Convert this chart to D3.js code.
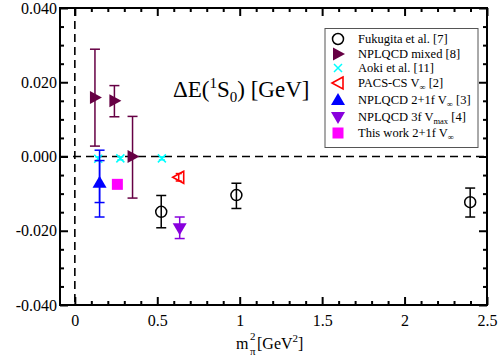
<!DOCTYPE html>
<html>
<head>
<meta charset="utf-8">
<script src="https://cdn.jsdelivr.net/npm/d3@7"></script>
<style>
  body { margin: 0; background: #fff; }
  text { font-family: "Liberation Serif", "Times New Roman", serif; }
</style>
</head>
<body>
<div id="chart"></div>
<script>
// data
var fukX = [0.524, 0.98, 2.398];
var fukY = [-0.0149, -0.0104, -0.0123];
var fukLo = [-0.0192, -0.0140, -0.0163];
var fukHi = [-0.0105, -0.0072, -0.0085];

var mixX = [0.122, 0.24, 0.35];
var mixY = [0.0159, 0.0150, 0.0000];
var mixLo = [0.0028, 0.0107, -0.0112];
var mixHi = [0.0289, 0.0191, 0.0108];

var aokiX = [0.142, 0.276, 0.528];
var aokiY = [-0.0006, -0.0005, -0.0005];
var aokiLo = [-0.0011, -0.0009, -0.0009];
var aokiHi = [-0.0001, -0.0001, -0.0001];

var pacsX = [0.63];
var pacsY = [-0.0056];
var pacsLo = [-0.0066];
var pacsHi = [-0.0046];

var npl21X = [0.15];
var npl21Y = [-0.0071];
var npl21Lo = [-0.0163];
var npl21Hi = [0.0017];
var npl21StatLo = [-0.0124];
var npl21StatHi = [-0.0011];

var npl3X = [0.636];
var npl3Y = [-0.0193];
var npl3Lo = [-0.0221];
var npl3Hi = [-0.0163];

var thisX = [0.258];
var thisY = [-0.0075];

var xTicks = [0, 0.5, 1, 1.5, 2, 2.5];
var xTickLabels = ["0", "0.5", "1", "1.5", "2", "2.5"];
var yTicks = [-0.04, -0.02, 0, 0.02, 0.04];
var yTickLabels = ["-0.040", "-0.020", "0.000", "0.020", "0.040"];

var width = 498, height = 358;
var pLeft = 60, pRight = 487, pTop = 8, pBottom = 305;

var x = d3.scaleLinear().domain([-0.09, 2.5]).range([pLeft, pRight]);
var y = d3.scaleLinear().domain([-0.04, 0.04]).range([pBottom, pTop]);

var svg = d3.select("#chart").append("svg")
  .attr("width", width).attr("height", height);

// minor ticks
var xMinor = d3.range(0, 2.5001, 0.1).filter(function(v) { return Math.abs(v * 2 - Math.round(v * 2)) > 1e-6; });
var yMinor = d3.range(-0.04, 0.04001, 0.005).filter(function(v) { return Math.abs(v / 0.02 - Math.round(v / 0.02)) > 1e-6; });

function tickAxis(axisFn, scale, vals, size, tr, labels) {
  var a = axisFn(scale).tickValues(vals).tickSizeInner(size).tickSizeOuter(0);
  if (labels) a.tickFormat(function(d, i) { return labels[i]; });
  else a.tickFormat("");
  var g = svg.append("g").attr("transform", tr).call(a);
  g.select(".domain").remove();
  g.selectAll(".tick line").attr("stroke", "#000").attr("stroke-width", 2);
  return g;
}

// bottom
var gb = tickAxis(d3.axisBottom, x, xTicks, -8, "translate(0," + pBottom + ")", xTickLabels);
gb.selectAll(".tick text").attr("y", 10).attr("dy", "0.71em").style("font-size", "16px").attr("fill", "#000");
tickAxis(d3.axisBottom, x, xMinor, -4, "translate(0," + pBottom + ")");
// top
tickAxis(d3.axisTop, x, xTicks, -8, "translate(0," + pTop + ")");
tickAxis(d3.axisTop, x, xMinor, -4, "translate(0," + pTop + ")");
// left
var gl = tickAxis(d3.axisLeft, y, yTicks, -8, "translate(" + pLeft + ",0)", yTickLabels);
gl.selectAll(".tick text").attr("x", -3).style("font-size", "16px").attr("fill", "#000");
tickAxis(d3.axisLeft, y, yMinor, -4, "translate(" + pLeft + ",0)");
// right
tickAxis(d3.axisRight, y, yTicks, -8, "translate(" + pRight + ",0)");
tickAxis(d3.axisRight, y, yMinor, -4, "translate(" + pRight + ",0)");

// frame
svg.append("rect").attr("x", pLeft).attr("y", pTop)
  .attr("width", pRight - pLeft).attr("height", pBottom - pTop)
  .attr("fill", "none").attr("stroke", "#000").attr("stroke-width", 2);

// zero lines
svg.append("line").attr("x1", pLeft).attr("x2", pRight)
  .attr("y1", y(0)).attr("y2", y(0))
  .attr("stroke", "#000").attr("stroke-width", 1.6).attr("stroke-dasharray", "8,5");
svg.append("line").attr("x1", x(0)).attr("x2", x(0))
  .attr("y1", pTop).attr("y2", pBottom)
  .attr("stroke", "#000").attr("stroke-width", 1.6).attr("stroke-dasharray", "8,5");

function errBars(xs, lo, hi, color, cap) {
  xs.forEach(function(xv, i) {
    var g = svg.append("g").attr("stroke", color).attr("stroke-width", 1.5);
    g.append("line").attr("x1", x(xv)).attr("x2", x(xv)).attr("y1", y(lo[i])).attr("y2", y(hi[i]));
    [lo[i], hi[i]].forEach(function(v) {
      g.append("line").attr("x1", x(xv) - cap).attr("x2", x(xv) + cap).attr("y1", y(v)).attr("y2", y(v));
    });
  });
}

var sym = {
  circle: function(g, cx, cy, c) {
    g.append("circle").attr("cx", cx).attr("cy", cy).attr("r", 5.5)
      .attr("fill", "none").attr("stroke", c).attr("stroke-width", 1.5);
  },
  right: function(g, cx, cy, c) {
    g.append("path").attr("d", "M" + (cx - 5) + "," + (cy - 6.5) + "L" + (cx + 7) + "," + cy + "L" + (cx - 5) + "," + (cy + 6.5) + "Z").attr("fill", c);
  },
  cross: function(g, cx, cy, c) {
    g.append("path").attr("d", "M" + (cx - 4) + "," + (cy - 4) + "L" + (cx + 4) + "," + (cy + 4) + "M" + (cx - 4) + "," + (cy + 4) + "L" + (cx + 4) + "," + (cy - 4))
      .attr("stroke", c).attr("stroke-width", 1.5);
  },
  leftOpen: function(g, cx, cy, c) {
    g.append("path").attr("d", "M" + (cx + 5) + "," + (cy - 6) + "L" + (cx - 6) + "," + cy + "L" + (cx + 5) + "," + (cy + 6) + "Z")
      .attr("fill", "none").attr("stroke", c).attr("stroke-width", 1.6);
  },
  up: function(g, cx, cy, c) {
    g.append("path").attr("d", "M" + (cx - 7) + "," + (cy + 5) + "L" + cx + "," + (cy - 7) + "L" + (cx + 7) + "," + (cy + 5) + "Z").attr("fill", c);
  },
  down: function(g, cx, cy, c) {
    g.append("path").attr("d", "M" + (cx - 7) + "," + (cy - 5) + "L" + cx + "," + (cy + 7) + "L" + (cx + 7) + "," + (cy - 5) + "Z").attr("fill", c);
  },
  square: function(g, cx, cy, c) {
    g.append("rect").attr("x", cx - 5.5).attr("y", cy - 5.5).attr("width", 11).attr("height", 11).attr("fill", c);
  }
};

function points(xs, ys, shape, color) {
  var g = svg.append("g");
  xs.forEach(function(xv, i) { sym[shape](g, x(xv), y(ys[i]), color); });
}

var cMix = "#660044", cAoki = "#00ffff", cPacs = "#ff0000", cBlue = "#0000ff", cPurp = "#8800dd", cMag = "#ff00ff";

errBars(mixX, mixLo, mixHi, cMix, 5);
points(mixX, mixY, "right", cMix);
errBars(aokiX, aokiLo, aokiHi, cAoki, 3);
points(aokiX, aokiY, "cross", cAoki);
errBars(npl21X, npl21Lo, npl21Hi, cBlue, 5);
errBars(npl21X, npl21StatLo, npl21StatHi, cBlue, 5);
points(npl21X, npl21Y, "up", cBlue);
points(thisX, thisY, "square", cMag);
errBars(pacsX, pacsLo, pacsHi, cPacs, 3);
points(pacsX, pacsY, "leftOpen", cPacs);
errBars(npl3X, npl3Lo, npl3Hi, cPurp, 5);
points(npl3X, npl3Y, "down", cPurp);
errBars(fukX, fukLo, fukHi, "#000", 5);
points(fukX, fukY, "circle", "#000");

// legend
var legend = [
  { shape: "circle", c: "#000", t: [["Fukugita et al. [7]"]] },
  { shape: "right", c: cMix, t: [["NPLQCD mixed [8]"]] },
  { shape: "cross", c: cAoki, t: [["Aoki et al. [11]"]] },
  { shape: "leftOpen", c: cPacs, t: [["PACS-CS V"], ["\u221e", "sub"], [" [2]"]] },
  { shape: "up", c: cBlue, t: [["NPLQCD 2+1f V"], ["\u221e", "sub"], [" [3]"]] },
  { shape: "down", c: cPurp, t: [["NPLQCD 3f V"], ["max", "sub"], [" [4]"]] },
  { shape: "square", c: cMag, t: [["This work 2+1f V"], ["\u221e", "sub"]] }
];
var legY = [39, 54, 68, 83, 100, 117, 133];
svg.append("rect").attr("x", 325).attr("y", 28.5).attr("width", 153).attr("height", 119)
  .attr("fill", "#fff").attr("stroke", "#555").attr("stroke-width", 1);
var lg = svg.append("g");
legend.forEach(function(d, i) {
  sym[d.shape](lg, 338, legY[i], d.c);
  var t = lg.append("text").attr("x", 358).attr("y", legY[i] + 4).style("font-size", "12.5px").attr("fill", "#000");
  d.t.forEach(function(p) {
    if (p[1] === "sub") {
      t.append("tspan").attr("dy", 3).style("font-size", "8.5px").text(p[0]);
    } else {
      var s = t.append("tspan").text(p[0]);
      if (t.selectAll("tspan").size() > 1) s.attr("dy", -3);
    }
  });
});

// title inside plot
var ti = svg.append("text").attr("x", 173).attr("y", 97).style("font-size", "23px").attr("fill", "#000");
ti.append("tspan").text("\u0394E(");
ti.append("tspan").attr("dy", -9).style("font-size", "15px").text("1");
ti.append("tspan").attr("dy", 9).text("S");
ti.append("tspan").attr("dy", 5).style("font-size", "15px").text("0");
ti.append("tspan").attr("dy", -5).text(") [GeV]");

// x axis title
var xt = svg.append("text").attr("x", 236).attr("y", 349).style("font-size", "16px").attr("fill", "#000");
xt.append("tspan").text("m");
svg.append("text").attr("x", 250).attr("y", 340).style("font-size", "11px").text("2");
svg.append("text").attr("x", 250).attr("y", 355).style("font-size", "11px").text("\u03c0");
var xt2 = svg.append("text").attr("x", 257).attr("y", 349).style("font-size", "16px").attr("fill", "#000");
xt2.append("tspan").text("[GeV");
xt2.append("tspan").attr("dy", -7).style("font-size", "11px").text("2");
xt2.append("tspan").attr("dy", 7).text("]");
</script>
</body>
</html>
